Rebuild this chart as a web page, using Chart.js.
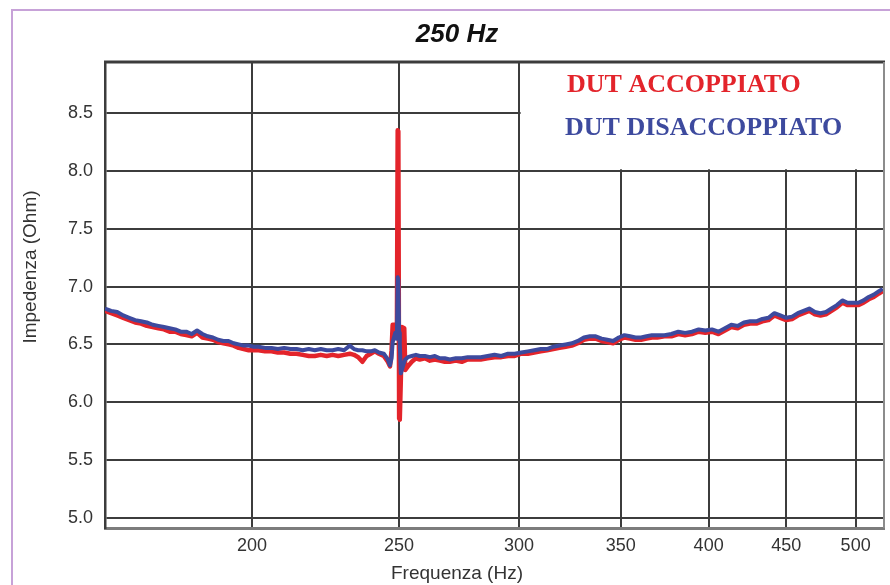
<!DOCTYPE html>
<html>
<head>
<meta charset="utf-8">
<title>250 Hz</title>
<script src="https://cdn.jsdelivr.net/npm/chart.js@4/dist/chart.umd.min.js"></script>
<style>
  html, body { margin: 0; padding: 0; background: #fff; }
  canvas { display: block; }
</style>
</head>
<body>
<canvas id="impChart" width="890" height="585"></canvas>
<script>
// frequency points (Hz)
const freq = [
  160, 161.5, 163, 164.5, 166, 167.5, 169, 170.5, 172, 173.5,
  175, 176.5, 178, 179.5, 181, 182.5, 184, 185.5, 187, 188.5,
  190, 191.5, 193, 194.5, 196, 197.5, 199, 200.5, 202, 204,
  206, 208, 210, 212, 214, 216, 218, 220, 222, 224,
  226, 228, 230, 232, 233.5, 235, 236.5, 238, 239.5, 241,
  242.5,
  244.3, 245.8, 246.6, 247.2, 247.6, 248.6, 249.2, 249.5, 249.75, 250.05,
  250.3, 250.7, 251.1, 252.0, 252.4, 253.4, 254.9,
  256.5, 258, 260, 262, 264, 266, 268, 270, 272.5, 275,
  277.5, 280, 283, 286, 289, 292, 295, 298, 301, 304,
  307, 310, 313, 316, 319, 322, 325, 328, 331, 334,
  337, 340, 343, 346, 349, 352, 355, 358, 361, 364,
  367, 370, 374, 378, 382, 386, 390, 394, 398, 402,
  406, 410, 414, 418, 422, 426, 430, 434, 438, 442,
  446, 450, 454, 458, 462, 466, 470, 474, 478, 482,
  486, 490, 494, 498, 502, 506, 510, 514, 518, 521
];

// DUT ACCOPPIATO (red), Ohm
const dutAccoppiato = [
  6.79, 6.77, 6.75, 6.73, 6.71, 6.69, 6.68, 6.66, 6.65, 6.64,
  6.63, 6.61, 6.61, 6.59, 6.58, 6.57, 6.60, 6.56, 6.55, 6.54,
  6.52, 6.51, 6.50, 6.49, 6.47, 6.46, 6.45, 6.45, 6.45, 6.44,
  6.44, 6.43, 6.43, 6.42, 6.42, 6.41, 6.40, 6.40, 6.41, 6.40,
  6.41, 6.40, 6.41, 6.42, 6.41, 6.39, 6.35, 6.40, 6.42, 6.44,
  6.42,
  6.40, 6.35, 6.31, 6.45, 6.67, 6.67, 6.60, 8.35, 8.34, 5.86,
  5.85, 6.20, 6.65, 6.64, 6.28, 6.31, 6.35,
  6.38, 6.37, 6.38, 6.36, 6.37, 6.36, 6.35, 6.35, 6.36, 6.35,
  6.37, 6.37, 6.37, 6.38, 6.39, 6.39, 6.40, 6.40, 6.42, 6.42,
  6.43, 6.44, 6.45, 6.46, 6.47, 6.48, 6.49, 6.51, 6.54, 6.55,
  6.55, 6.53, 6.52, 6.51, 6.54, 6.56, 6.55, 6.54, 6.54, 6.55,
  6.56, 6.56, 6.57, 6.57, 6.59, 6.58, 6.59, 6.61, 6.60, 6.61,
  6.59, 6.62, 6.65, 6.64, 6.67, 6.68, 6.68, 6.70, 6.71, 6.75,
  6.73, 6.71, 6.72, 6.75, 6.77, 6.79, 6.76, 6.75, 6.76, 6.79,
  6.82, 6.86, 6.84, 6.84, 6.84, 6.86, 6.89, 6.91, 6.94, 6.96
];

// DUT DISACCOPPIATO (blue), Ohm
const dutDisaccoppiato = [
  6.81, 6.79, 6.78, 6.75, 6.73, 6.71, 6.70, 6.69, 6.67, 6.66,
  6.65, 6.64, 6.63, 6.61, 6.61, 6.59, 6.62, 6.59, 6.57, 6.56,
  6.54, 6.53, 6.53, 6.51, 6.50, 6.49, 6.49, 6.48, 6.48, 6.47,
  6.47, 6.46, 6.47, 6.46, 6.46, 6.45, 6.46, 6.45, 6.46, 6.45,
  6.45, 6.46, 6.45, 6.49, 6.46, 6.45, 6.45, 6.44, 6.44, 6.45,
  6.43,
  6.42, 6.37, 6.32, 6.38, 6.52, 6.60, 6.55, 7.08, 7.06, 6.60,
  6.50, 6.25, 6.28, 6.35, 6.37, 6.39, 6.40,
  6.41, 6.40, 6.40, 6.39, 6.40, 6.38, 6.38, 6.37, 6.38, 6.38,
  6.39, 6.39, 6.39, 6.40, 6.41, 6.40, 6.42, 6.42, 6.43, 6.44,
  6.45, 6.46, 6.46, 6.48, 6.49, 6.50, 6.51, 6.53, 6.56, 6.57,
  6.57, 6.55, 6.54, 6.53, 6.56, 6.58, 6.57, 6.56, 6.56, 6.57,
  6.58, 6.58, 6.58, 6.59, 6.61, 6.60, 6.61, 6.63, 6.62, 6.63,
  6.61, 6.64, 6.67, 6.66, 6.69, 6.70, 6.70, 6.72, 6.73, 6.77,
  6.75, 6.73, 6.74, 6.77, 6.79, 6.81, 6.78, 6.77, 6.78, 6.81,
  6.84, 6.88, 6.86, 6.86, 6.86, 6.88, 6.91, 6.93, 6.96, 6.98
];

const xTicks = [200, 250, 300, 350, 400, 450, 500];
const yTicks = [5.0, 5.5, 6.0, 6.5, 7.0, 7.5, 8.0, 8.5];
const seriesLabels = ["DUT ACCOPPIATO", "DUT DISACCOPPIATO"];
const chartTitle = "250 Hz";
const xTitle = "Frequenza (Hz)";
const yTitle = "Impedenza (Ohm)";

const RED = "#e3242b";
const BLUE = "#3d4a9e";
const GRID = "#3c3c3c";
const TEXT = "#333333";
const SANS = "'Liberation Sans', Arial, sans-serif";
const SERIF = "'Liberation Serif', 'Times New Roman', serif";

// frame, title, axis titles and the boxed legend inside the plot
const decorations = {
  id: "decorations",
  beforeDraw(chart) {
    const ctx = chart.ctx;
    ctx.save();
    ctx.fillStyle = "#fff";
    ctx.fillRect(0, 0, chart.width, chart.height);
    ctx.fillStyle = "#c7a2d8";
    ctx.fillRect(11, 9, chart.width - 11, 2);
    ctx.fillRect(11, 9, 2, chart.height - 9);
    ctx.restore();
  },
  beforeDatasetsDraw(chart) {
    const { ctx, chartArea: a, scales: { x, y } } = chart;
    const left = x.getPixelForValue(300) + 1.5;
    const bottom = y.getPixelForValue(8.0) - 1.5;
    ctx.save();
    ctx.fillStyle = "#fff";
    ctx.fillRect(left, a.top + 1, a.right - left - 1, bottom - a.top - 1);
    ctx.restore();
  },
  afterDatasetsDraw(chart) {
    const { ctx, chartArea: a } = chart;
    ctx.save();
    // top and right edges of the plot frame
    ctx.strokeStyle = GRID;
    ctx.lineWidth = 3;
    ctx.beginPath();
    ctx.moveTo(a.left - 1, a.top);
    ctx.lineTo(a.right + 1, a.top);
    ctx.stroke();
    ctx.strokeStyle = "#8c8c8c";
    ctx.lineWidth = 2;
    ctx.beginPath();
    ctx.moveTo(a.right, a.top);
    ctx.lineTo(a.right, a.bottom);
    ctx.stroke();

    // legend text
    ctx.font = "bold 26px " + SERIF;
    ctx.textAlign = "left";
    ctx.textBaseline = "alphabetic";
    ctx.fillStyle = RED;
    ctx.fillText(seriesLabels[0], 567, 92);
    ctx.fillStyle = BLUE;
    ctx.fillText(seriesLabels[1], 565, 135);
    ctx.restore();
  },
  afterDraw(chart) {
    const ctx = chart.ctx;
    ctx.save();
    ctx.fillStyle = "#111";
    ctx.font = "italic bold 26px " + SANS;
    ctx.textAlign = "center";
    ctx.textBaseline = "middle";
    ctx.fillText(chartTitle, 457, 35);

    ctx.fillStyle = TEXT;
    ctx.font = "19px " + SANS;
    ctx.fillText(xTitle, 457, 574);

    ctx.translate(31, 267);
    ctx.rotate(-Math.PI / 2);
    ctx.fillText(yTitle, 0, 0);
    ctx.restore();
  }
};

new Chart(document.getElementById("impChart"), {
  type: "line",
  data: {
    datasets: [
      {
        label: seriesLabels[1],
        data: freq.map((f, i) => ({ x: f, y: dutDisaccoppiato[i] })),
        borderColor: BLUE,
        borderWidth: 4,
        borderJoinStyle: "round",
        pointRadius: 0,
        tension: 0,
        fill: false
      },
      {
        label: seriesLabels[0],
        data: freq.map((f, i) => ({ x: f, y: dutAccoppiato[i] })),
        borderColor: RED,
        borderWidth: 4.5,
        borderJoinStyle: "round",
        pointRadius: 0,
        tension: 0,
        fill: false
      }
    ]
  },
  options: {
    responsive: false,
    animation: false,
    devicePixelRatio: 1,
    layout: { padding: { top: 62, right: 6, left: 0, bottom: 0 } },
    plugins: {
      legend: { display: false },
      title: { display: false },
      tooltip: { enabled: false }
    },
    scales: {
      x: {
        type: "logarithmic",
        min: 160,
        max: 522,
        afterBuildTicks: (s) => { s.ticks = xTicks.map((v) => ({ value: v })); },
        afterFit: (s) => { s.height = 57; },
        ticks: {
          autoSkip: false,
          maxRotation: 0,
          padding: 7,
          color: TEXT,
          font: { family: SANS, size: 18 },
          callback: (v) => String(v)
        },
        grid: { color: GRID, lineWidth: 2, drawTicks: false },
        border: { color: "#7c7c7c", width: 3 }
      },
      y: {
        min: 4.914,
        max: 8.94,
        afterBuildTicks: (s) => { s.ticks = yTicks.map((v) => ({ value: v })); },
        afterFit: (s) => { s.width = 105; },
        ticks: {
          padding: 12,
          color: TEXT,
          font: { family: SANS, size: 18 },
          callback: (v) => v.toFixed(1)
        },
        grid: { color: GRID, lineWidth: 2, drawTicks: false },
        border: { color: GRID, width: 2.5 }
      }
    }
  },
  plugins: [decorations]
});
</script>
</body>
</html>
